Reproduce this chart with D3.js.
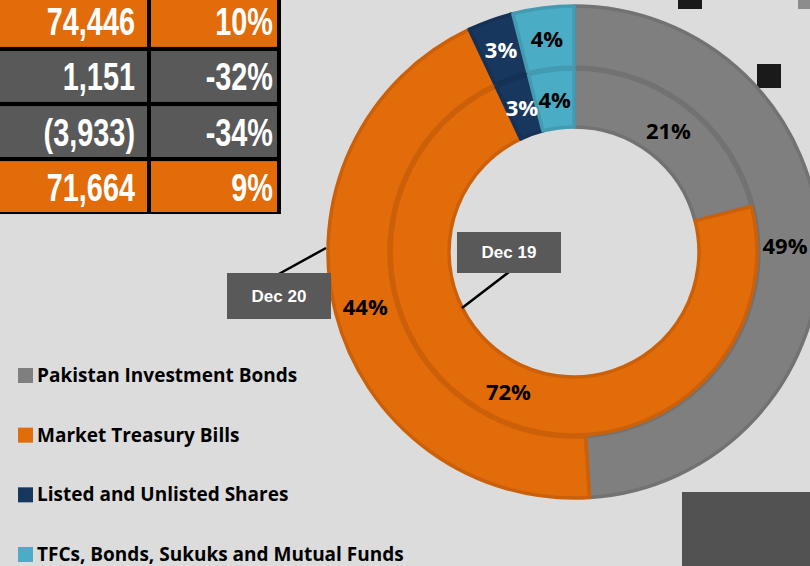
<!DOCTYPE html>
<html lang="en">
<head>
    <meta charset="UTF-8">
    <title>Investments donut</title>
    <script src="https://d3js.org/d3.v7.min.js"></script>
    <style>
        html, body {
            margin: 0;
            background: #dcdcdc;
            width: 810px;
            height: 566px;
            overflow: hidden;
        }
        svg { display: block; }
        .tbl { font-family: 'Liberation Sans', Arial, sans-serif; font-weight: bold; fill: white; font-size: 39px; }
        .pct { font-family: 'Open Sans', sans-serif; font-weight: bold; font-size: 22px; }
        .legend { font-family: 'Open Sans', sans-serif; font-weight: bold; font-size: 19px; fill: #000; }
        .callout { font-family: 'Liberation Sans', Arial, sans-serif; font-weight: bold; font-size: 17px; fill: white; }
    </style>
</head>
<body>
<svg width="810" height="566"></svg>
<script>
    // Data
    const categories = ["Pakistan Investment Bonds", "Market Treasury Bills", "Listed and Unlisted Shares", "TFCs, Bonds, Sukuks and Mutual Funds"];
    const dec20 = [49, 44, 3, 4];   // outer ring
    const dec19 = [21, 72, 3, 4];   // inner ring
    const colors = ["#7f7f7f", "#e26b0a", "#17375e", "#4bacc6"];
    const labelColors = ["#000", "#000", "#fff", "#000"];

    const tableValues = ["74,446", "1,151", "(3,933)", "71,664"];
    const tableChanges = ["10%", "-32%", "-34%", "9%"];
    const tableFill = ["#e26b0a", "#595959", "#595959", "#e26b0a"];

    const svg = d3.select("svg");
    const W = 810;
    const cx = 574, cy = 252;

    // decorations
    svg.append("rect").attr("x", 678).attr("y", -5).attr("width", 24).attr("height", 14).attr("fill", "#1a1a1a");
    svg.append("rect").attr("x", 798).attr("y", -5).attr("width", 20).attr("height", 14).attr("fill", "#8c8c8c");
    svg.append("rect").attr("x", 757).attr("y", 64).attr("width", 24).attr("height", 24).attr("fill", "#1a1a1a");
    svg.append("rect").attr("x", 682).attr("y", 492).attr("width", 140).attr("height", 80).attr("fill", "#525252");

    // table (narrow font faked by squeezing horizontally)
    const tbl = svg.append("g");
    tbl.append("rect").attr("x", 0).attr("y", -5).attr("width", 281).attr("height", 219).attr("fill", "#000");
    const rowY = d3.scaleBand().domain(d3.range(tableValues.length)).range([-4, 212]).paddingInner(0.075);
    tableValues.forEach((v, i) => {
        const y = rowY(i), h = rowY.bandwidth();
        tbl.append("rect").attr("x", 0).attr("y", y).attr("width", 147).attr("height", h).attr("fill", tableFill[i]);
        tbl.append("rect").attr("x", 151).attr("y", y).attr("width", 126).attr("height", h).attr("fill", tableFill[i]);
        tbl.append("text").attr("class", "tbl")
            .attr("transform", `translate(135,${y + h / 2 + 14}) scale(0.74,1)`)
            .attr("text-anchor", "end").text(v);
        tbl.append("text").attr("class", "tbl")
            .attr("transform", `translate(273,${y + h / 2 + 14}) scale(0.74,1)`)
            .attr("text-anchor", "end").text(tableChanges[i]);
    });

    // donut
    const pie = d3.pie().sort(null).value(d => d);
    const rings = [
        { data: dec20, r0: 185, r1: 246 },
        { data: dec19, r0: 125, r1: 183 }
    ];
    const g = svg.append("g").attr("transform", `translate(${cx},${cy})`);
    rings.forEach(ring => {
        const arc = d3.arc().innerRadius(ring.r0).outerRadius(ring.r1);
        const mid = (ring.r0 + ring.r1) / 2;
        const labelArc = d3.arc().innerRadius(mid).outerRadius(mid);
        const arcs = pie(ring.data);
        g.append("g").selectAll("path")
            .data(arcs)
            .enter().append("path")
            .attr("d", arc)
            .attr("fill", (d, i) => colors[i])
            .attr("stroke", (d, i) => d3.color(colors[i]).darker(0.3))
            .attr("stroke-width", 3.5)
            .attr("stroke-linejoin", "round");
        g.append("g").selectAll("text")
            .data(arcs)
            .enter().append("text")
            .attr("class", "pct")
            .attr("transform", d => {
                const [x, y] = labelArc.centroid(d);
                // keep label inside the picture on the right edge
                return `translate(${Math.min(x, W - cx - 25)},${y})`;
            })
            .attr("text-anchor", "middle")
            .attr("dominant-baseline", "central")
            .attr("fill", (d, i) => labelColors[i])
            .text(d => d.data + "%");
    });

    // callouts
    function callout(x, y, w, h, text, x1, y1, x2, y2) {
        svg.append("line").attr("x1", x1).attr("y1", y1).attr("x2", x2).attr("y2", y2)
            .attr("stroke", "#000").attr("stroke-width", 2.5);
        svg.append("rect").attr("x", x).attr("y", y).attr("width", w).attr("height", h).attr("fill", "#595959");
        svg.append("text").attr("class", "callout").attr("x", x + w / 2).attr("y", y + h / 2)
            .attr("text-anchor", "middle").attr("dominant-baseline", "central").text(text);
    }
    callout(227, 273, 104, 46, "Dec 20", 277, 275, 326, 248);
    callout(457, 232, 104, 41, "Dec 19", 509, 272, 462, 308);

    // legend
    const legendY = d3.scalePoint().domain(categories).range([375, 554]);
    const leg = svg.append("g").selectAll("g").data(categories).enter().append("g")
        .attr("transform", d => `translate(18,${legendY(d)})`);
    leg.append("rect").attr("x", 0).attr("y", -7).attr("width", 15).attr("height", 15)
        .attr("fill", (d, i) => colors[i]);
    leg.append("text").attr("class", "legend").attr("x", 19).attr("y", 0)
        .attr("dominant-baseline", "central").text(d => d);
</script>
</body>
</html>
